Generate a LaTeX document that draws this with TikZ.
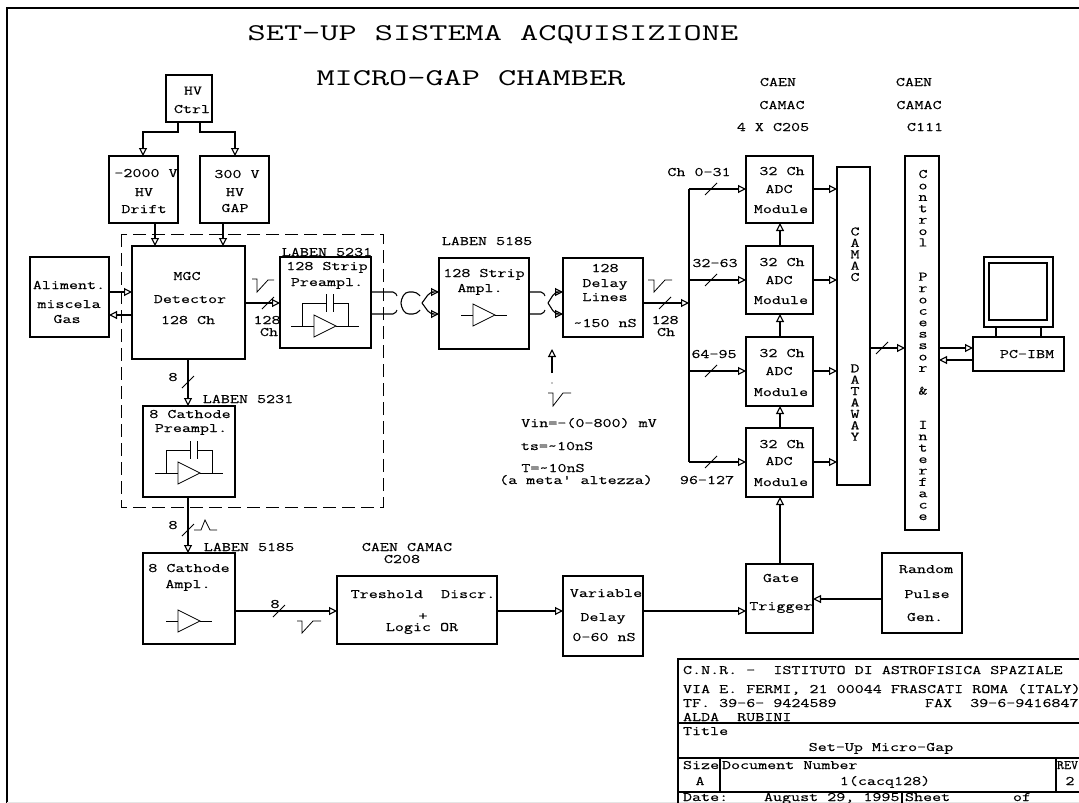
\documentclass[tikz,border=0pt]{standalone}
\usepackage{fontspec}
\usetikzlibrary{fit,arrows.meta}
\newfontfamily\monof[FakeStretch=1.35,FakeBold=0.25]{Latin Modern Mono}
\newfontfamily\monon[FakeStretch=1.05,FakeBold=0.25]{Latin Modern Mono}
\newfontfamily\monot[FakeStretch=1.47]{Latin Modern Mono}
\newcounter{tc}
\newcommand\til{\symbol{126}}
\newcommand\bx[5]{\node[boxs,fit={(#2,#3)(#4,#5)}] (#1) {};}
\newcommand\lbl[3]{\stepcounter{tc}\node[labs] (t\thetc) at (#1,#2) {#3};}
\newcommand\lbll[3]{\stepcounter{tc}\node[labs,anchor=west] (t\thetc) at (#1,#2) {#3};}
\newcommand\ttl[3]{\stepcounter{tc}\node[ttls] (t\thetc) at (#1,#2) {#3};}
\tikzset{
  boxs/.style={draw,line width=1.1pt,inner sep=0pt,outer sep=0pt},
  labs/.style={inner sep=0pt,outer sep=0pt,font=\monof\fontsize{13}{13}\selectfont,text height=8pt,text depth=0pt},
  ttls/.style={inner sep=0pt,outer sep=0pt,font=\monot\fontsize{24}{24}\selectfont,text height=14pt,text depth=0pt},
  vtxt/.style={inner sep=0pt,outer sep=0pt,align=center,font=\monof\fontsize{13}{11.4}\selectfont},
  wire/.style={line width=1.1pt},
  arr/.style={line width=1.1pt,-{Triangle[open,length=8pt,width=8pt]}},
  fine/.style={line width=0.8pt},
  ampbase/.pic={
    \draw[fine] (-11,-11) -- (-11,11) -- (11,0) -- cycle;
    \draw[fine] (-23,0) -- (-11,0) (11,0) -- (23,0);},
  ampfb/.pic={
    \draw[fine] (-11,-11) -- (-11,11) -- (11,0) -- cycle;
    \draw[fine] (-34,0) -- (-11,0) (11,0) -- (34,0);
    \draw[fine] (-23,0) -- (-23,-23) -- (1,-23) (1,-32) -- (1,-14);
    \draw[fine] (23,0) -- (23,-23) -- (8,-23) (8,-32) -- (8,-14);},
  tick/.pic={\draw[fine] (-6,6) -- (6,-6);}
}
\begin{document}
\begin{tikzpicture}[x=1pt,y=-1pt]
\useasboundingbox (0,0) rectangle (1079,803);
\clip (0,0) rectangle (1079,803);
% frame
\draw[wire] (1079,8) -- (7,8) -- (7,803);
\draw[line width=0.8pt,black!10] (7,802.5) -- (1079,802.5);
% title
\ttl{493}{33}{SET-UP SISTEMA ACQUISIZIONE}
\ttl{471}{78}{MICRO-GAP CHAMBER}
% boxes
\bx{ctrl}{166}{75}{212}{122}
\bx{drift}{109}{156}{178}{223}
\bx{gap}{200}{156}{269}{223}
\bx{det}{132}{246}{245}{359}
\bx{gas}{30}{257}{109}{337}
\bx{pre}{280}{257}{371}{348}
\bx{amp}{439}{258}{529}{349}
\bx{dly}{563}{258}{643}{337}
\bx{catp}{143}{406}{235}{497}
\bx{cata}{143}{553}{235}{644}
\bx{disc}{337}{576}{497}{644}
\bx{vard}{563}{576}{643}{656}
\bx{gate}{746}{564}{813}{633}
\bx{rnd}{882}{553}{962}{633}
\bx{adca}{746}{156}{813}{223}
\bx{adcb}{746}{246}{813}{314}
\bx{adcc}{746}{337}{813}{406}
\bx{adcd}{746}{428}{813}{497}
\bx{cam}{837}{167}{870}{485}
\bx{ctl}{905}{156}{939}{530}
\bx{pc}{973}{337}{1064}{371}
\bx{mono}{984}{257}{1053}{327}
\bx{scr}{989}{263}{1047}{320}
% monitor stand
\draw[wire] (mono.south -| 996,0) -- (pc.north -| 996,0);
\draw[wire] (mono.south -| 1041,0) -- (pc.north -| 1041,0);
% dashed enclosure
\draw[line width=0.9pt,dash pattern=on 13pt off 6pt] (121,234) rectangle (383,507);
% HV
\draw[arr] (ctrl.south -| 178,0) |- (143,132) -- (drift.north -| 143,0);
\draw[arr] (ctrl.south -| 200,0) |- (235,132) -- (gap.north -| 235,0);
\draw[arr] (drift.south -| 155,0) -- (det.north -| 155,0);
\draw[arr] (gap.south -| 223,0) -- (det.north -| 223,0);
% gas
\draw[arr] (gas.east |- 0,292) -- (det.west |- 0,292);
\draw[arr] (det.west |- 0,315) -- (gas.east |- 0,315);
% det to pre
\draw[arr] (det.east |- 0,303) -- (pre.west |- 0,303);
\pic at (268,303) {tick};
% cable breaks pre-amp
\draw[wire,rounded corners=2pt] (pre.east |- 0,292) -- (395,292) -- (397,296);
\draw[wire,rounded corners=2pt] (pre.east |- 0,314) -- (395,314) -- (397,310);
\draw[wire,rounded corners=4pt] (420,296) -- (417,292) -- (405,292) -- (400,303) -- (405,314) -- (417,314) -- (420,310);
\draw[arr,rounded corners=4pt] (422,303) -- (430,292) -- (amp.west |- 0,292);
\draw[arr,rounded corners=4pt] (422,303) -- (430,314) -- (amp.west |- 0,314);
% cable breaks amp-delay
\draw[wire,rounded corners=2pt] (amp.east |- 0,292) -- (543,292) -- (545,296);
\draw[wire,rounded corners=2pt] (amp.east |- 0,314) -- (543,314) -- (545,310);
\draw[arr,rounded corners=4pt] (548,303) -- (555,292) -- (dly.west |- 0,292);
\draw[arr,rounded corners=4pt] (548,303) -- (555,314) -- (dly.west |- 0,314);
% delay to bus
\coordinate (bus) at (689,303);
\draw[arr] (dly.east |- bus) -- (bus);
\pic at (665,303) {tick};
\draw[wire] (689,189) -- (689,462);
\draw[arr] (689,189) -- (adca.west |- 0,189);
\draw[arr] (689,280) -- (adcb.west |- 0,280);
\draw[arr] (689,371) -- (adcc.west |- 0,371);
\draw[arr] (689,462) -- (adcd.west |- 0,462);
\pic at (711,189) {tick};
\pic at (711,280) {tick};
\pic at (711,371) {tick};
\pic at (711,462) {tick};
% adc chain
\draw[arr] (adcb.north -| 780,0) -- (adca.south -| 780,0);
\draw[arr] (adcc.north -| 780,0) -- (adcb.south -| 780,0);
\draw[arr] (adcd.north -| 780,0) -- (adcc.south -| 780,0);
\draw[arr] (gate.north -| 780,0) -- (adcd.south -| 780,0);
\draw[arr] (adca.east |- 0,189) -- (cam.west |- 0,189);
\draw[arr] (adcb.east |- 0,280) -- (cam.west |- 0,280);
\draw[arr] (adcc.east |- 0,371) -- (cam.west |- 0,371);
\draw[arr] (adcd.east |- 0,462) -- (cam.west |- 0,462);
\draw[arr] (cam.east |- 0,348) -- (ctl.west |- 0,348);
\pic at (882,348) {tick};
\draw[arr] (ctl.east |- 0,348) -- (pc.west |- 0,348);
\draw[arr] (pc.west |- 0,360) -- (ctl.east |- 0,360);
% cathode chain
\draw[arr] (det.south -| 188,0) -- (catp.north -| 188,0);
\pic at (188,382) {tick};
\draw[arr] (catp.south -| 188,0) -- (cata.north -| 188,0);
\pic at (188,530) {tick};
\draw[arr] (cata.east |- 0,611) -- (disc.west |- 0,611);
\pic at (279,611) {tick};
\draw[arr] (disc.east |- 0,611) -- (vard.west |- 0,611);
\draw[arr] (vard.east |- 0,611) -- (gate.west |- 0,611);
\draw[arr] (rnd.west |- 0,599) -- (gate.east |- 0,599);
% external input
\coordinate (inp) at (552,373);
\draw[arr] (inp) -- (amp.south -| 552,0);
\fill (552,383) circle (0.7pt);
% amplifiers
\pic at (325,326) {ampfb};
\pic at (189,473) {ampfb};
\pic at (484,315) {ampbase};
\pic at (189,621) {ampbase};
% pulses
\draw[fine] (252,279) -- (257,279) -- (257,292) -- (268,280) -- (274,280);
\draw[fine] (648,280) -- (654,280) -- (654,292) -- (665,280) -- (672,280);
\draw[fine] (548,393) -- (553,393) -- (553,406) -- (563,393) -- (571,393);
\draw[fine] (297,621) -- (302,621) -- (302,633) -- (313,621) -- (321,621);
\draw[fine] (194,530) -- (201,530) -- (205,520) -- (210,530) -- (217,530);
% texts
\lbl{193}{90.5}{HV} \lbl{192}{109}{Ctrl}
\lbl{146}{173}{-2000 V} \lbl{144}{192}{HV} \lbl{144}{209}{Drift}
\lbl{237}{174}{300 V} \lbl{235}{192}{HV} \lbl{235}{208}{GAP}
\lbl{187}{276}{MGC} \lbl{190}{299}{Detector} \lbl{188}{320}{128 Ch}
\lbl{69}{285}{Aliment.} \lbl{69}{304}{miscela} \lbl{67}{319}{Gas}
\lbl{327}{252}{LABEN 5231} \lbl{327}{266}{128 Strip} \lbl{327}{282}{Preampl.}
\lbl{267}{320}{128} \lbl{269}{332}{Ch}
\lbl{248}{399}{LABEN 5231} \lbl{190}{414}{8 Cathode} \lbl{191}{428}{Preampl.}
\lbl{173}{377}{8} \lbl{173}{525}{8} \lbl{275}{604}{8}
\lbl{249}{547}{LABEN 5185} \lbl{189}{568}{8 Cathode} \lbl{188}{584}{Ampl.}
\lbl{407}{547}{CAEN CAMAC} \lbl{402}{559}{C208}
\lbl{423}{594}{Treshold~~Discr.} \lbl{423}{616}{+} \lbl{422}{627}{Logic OR}
\lbl{487}{241}{LABEN 5185} \lbl{484}{273}{128 Strip} \lbl{480}{288}{Ampl.}
\lbl{605}{268}{128} \lbl{605}{283}{Delay} \lbl{605}{297}{Lines} \lbl{605}{323}{\til 150 nS}
\lbl{665}{320}{128} \lbl{666}{332}{Ch}
\lbl{699}{172}{Ch 0-31} \lbl{715}{263}{32-63} \lbl{714}{354}{64-95} \lbl{707}{480}{96-127}
\lbl{589}{423}{Vin=-(0-800) mV} \lbl{557}{446}{ts=\til 10nS} \lbl{553}{468}{T=\til 10nS}
\lbl{576}{480}{(a meta\char39\ altezza)}
\lbl{778}{82}{CAEN} \lbl{782}{105}{CAMAC} \lbl{773}{127}{4 X C205}
\lbl{914}{82}{CAEN} \lbl{919}{105}{CAMAC} \lbl{925}{127}{C111}
\lbl{782}{171}{32 Ch} \lbl{779}{189}{ADC} \lbl{781}{209}{Module}
\lbl{782}{262}{32 Ch} \lbl{779}{280}{ADC} \lbl{781}{300}{Module}
\lbl{782}{353}{32 Ch} \lbl{779}{371}{ADC} \lbl{781}{392}{Module}
\lbl{782}{444}{32 Ch} \lbl{779}{461}{ADC} \lbl{781}{482}{Module}
\lbl{926}{569}{Random} \lbl{927}{594}{Pulse} \lbl{925}{617}{Gen.}
\lbl{781}{578}{Gate} \lbl{781}{606}{Trigger}
\lbl{606}{593}{Variable} \lbl{603}{617}{Delay} \lbl{604}{637}{0-60 nS}
\lbl{1027}{354}{PC-IBM}
% vertical texts
\node[vtxt] (vcam) at (855,334) {C\\A\\M\\A\\C\\~\\~\\~\\~\\~\\~\\~\\D\\A\\T\\A\\W\\A\\Y};
\node[vtxt] (vctl) at (923,345) {C\\o\\n\\t\\r\\o\\l\\~\\~\\P\\r\\o\\c\\e\\s\\s\\o\\r\\~\\\&\\~\\~\\I\\n\\t\\e\\r\\f\\a\\c\\e};
% title block
\draw[wire] (1079,659) -- (678,659) -- (678,803);
\draw[wire] (678,723) -- (1079,723);
\draw[wire] (678,758) -- (1079,758);
\draw[wire] (678,792) -- (1079,792);
\draw[wire] (720,758) -- (720,792);
\draw[wire] (1056,758) -- (1056,792);
\draw[wire] (902,792) -- (902,803);
\lbll{683}{670}{C.N.R. -~~ISTITUTO DI ASTROFISICA SPAZIALE}
\lbll{683}{689}{VIA E. FERMI, 21 00044 FRASCATI ROMA (ITALY)}
\lbll{683}{703}{TF. 39-6- 9424589}
\lbll{925}{703}{FAX~~39-6-9416847}
\lbll{683}{717}{ALDA~~RUBINI}
\lbll{683}{731}{Title}
\lbl{881}{747}{Set-Up Micro-Gap}
\lbll{683}{765}{Size}
\lbll{722}{765}{Document Number}
\node[labs,anchor=west,font=\monon\fontsize{13}{13}\selectfont] (trev) at (1057,765) {REV};
\lbl{700}{781}{A}
\lbl{885}{781}{1(cacq128)}
\lbl{1070}{781}{2}
\lbll{683}{797}{Date:}
\lbll{764}{797}{August 29, 1995}
\lbll{905}{797}{Sheet}
\lbl{1022}{797}{of}
\end{tikzpicture}
\end{document}
